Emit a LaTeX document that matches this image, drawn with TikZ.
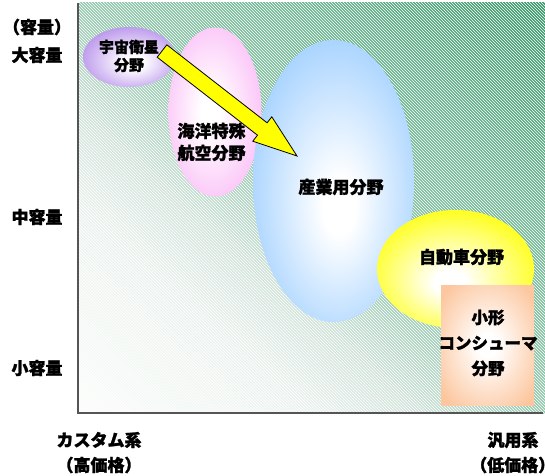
\documentclass[tikz,border=0pt]{standalone}
\usepackage{fontspec}
\newfontfamily\jp{Noto Sans CJK JP}[BoldFeatures={FakeBold=1.5}]
\usetikzlibrary{patterns}
\definecolor{ga}{RGB}{250,252,250}
\definecolor{gb}{RGB}{236,243,239}
\definecolor{gc}{RGB}{205,225,215}
\definecolor{gd}{RGB}{150,200,175}
\definecolor{ge}{RGB}{106,178,143}
\definecolor{gf}{RGB}{52,148,102}
\definecolor{cpur}{RGB}{180,140,234}
\definecolor{cpink}{RGB}{250,182,246}
\definecolor{cblue}{RGB}{153,204,255}
\definecolor{cyel}{RGB}{255,255,0}
\definecolor{cpeach}{RGB}{252,198,158}
\definecolor{caxis}{RGB}{85,85,85}
\pgfdeclareradialshading{shpur}{\pgfpoint{3bp}{-5bp}}{color(0bp)=(white); color(5bp)=(white); color(31bp)=(cpur); color(50bp)=(cpur)}
\pgfdeclareradialshading{shpink}{\pgfpoint{-3bp}{0bp}}{color(0bp)=(white); color(5bp)=(white); color(33bp)=(cpink); color(50bp)=(cpink)}
\pgfdeclareradialshading{shblue}{\pgfpoint{2bp}{-5bp}}{color(0bp)=(white); color(5bp)=(white); color(32bp)=(cblue); color(50bp)=(cblue)}
\pgfdeclareradialshading{shyel}{\pgfpoint{-2bp}{-6bp}}{color(0bp)=(white); color(5bp)=(white); color(31bp)=(cyel); color(50bp)=(cyel)}
\pgfdeclareradialshading{shpeach}{\pgfpoint{0bp}{0bp}}{color(0bp)=(white); color(5bp)=(white); color(32bp)=(cpeach); color(50bp)=(cpeach)}
% diagonal background bands: t from #1 to #2, colour #3 -> #4
\newcommand\bgbands[4]{%
  \foreach \k in {0,...,15}{%
    \pgfmathsetmacro\sa{2*(#1+(#2-#1)*\k/16)}%
    \pgfmathsetmacro\sb{2*(#1+(#2-#1)*(\k+1.4)/16)}%
    \pgfmathsetmacro\pc{100*(\k+0.5)/16}%
    \fill[color=#4!\pc!#3] (\sa+1,-1) -- (-1,\sa+1) -- (-1,\sb+1) -- (\sb+1,-1) -- cycle;
  }}
\begin{document}
\begin{tikzpicture}[x=1pt,y=1pt,
  lab/.style={font=\jp\bfseries\fontsize{17}{21}\selectfont, inner sep=0pt, align=center, text=black},
  labs/.style={font=\jp\bfseries\fontsize{15}{19}\selectfont, inner sep=0pt, align=center, text=black},
  axisline/.style={draw=caxis, line width=1.2pt},
  bigarrow/.style={fill=cyel, draw=black, line width=0.8pt, line join=miter}]
\useasboundingbox (0,0) rectangle (545,475);
% background
\begin{scope}[shift={(79,62)}, x=466pt, y=410pt]
  \clip (0,0) rectangle (1,1);
  \bgbands{0}{0.25}{ga}{gb}
  \bgbands{0.25}{0.375}{gb}{gc}
  \bgbands{0.375}{0.5}{gc}{gd}
  \bgbands{0.5}{0.75}{gd}{ge}
  \bgbands{0.75}{1}{ge}{gf}
\end{scope}
\fill[pattern=north west lines, pattern color=white, fill opacity=0.2] (79,62) rectangle (545,472);
\draw[axisline] (78,472) -- (78,62) -- (543,62);
% regions
\shade[shading=shpur] (129,418) ellipse (46 and 30);
\shade[shading=shpink] (215,363) ellipse (46.5 and 84.5);
\shade[shading=shblue] (333.5,294) ellipse (80.5 and 141);
\shade[shading=shyel] (455.5,206) ellipse (78.5 and 59);
\shade[shading=shpeach] (441,70) rectangle (534,190);
% arrow
\draw[bigarrow] (166.8,430.2) -- (267.1,352.2) -- (271.8,358.2) -- (297,319) -- (252.8,333.8) -- (257.5,339.8) -- (157.2,417.8) -- cycle;
% region labels
\node[labs] (uchu) at (129,419) {宇宙衛星\\[-1pt]分野};
\node[lab] (kaiyo) at (211.5,333) {海洋特殊\\[1pt]航空分野};
\node[lab] (sangyo) at (341,288) {産業用分野};
\node[lab] (jidosha) at (461.5,218) {自動車分野};
\node[lab, font=\jp\bfseries\fontsize{16.5}{25.5}\selectfont] (kogata) at (488,132) {小形\\コンシューマ\\分野};
% axis labels
\node[lab] (yunit) at (37,448) {（容量）};
\node[lab] (dai) at (37,420) {大容量};
\node[lab] (chu) at (37,258) {中容量};
\node[lab] (sho) at (37,107) {小容量};
\node[lab] (custom) at (99,35) {カスタム系};
\node[lab] (custom2) at (99,10) {（高価格）};
\node[lab] (hanyo) at (513,35) {汎用系};
\node[lab, anchor=west] (hanyo2) at (470,10) {（低価格）};
\end{tikzpicture}
\end{document}
